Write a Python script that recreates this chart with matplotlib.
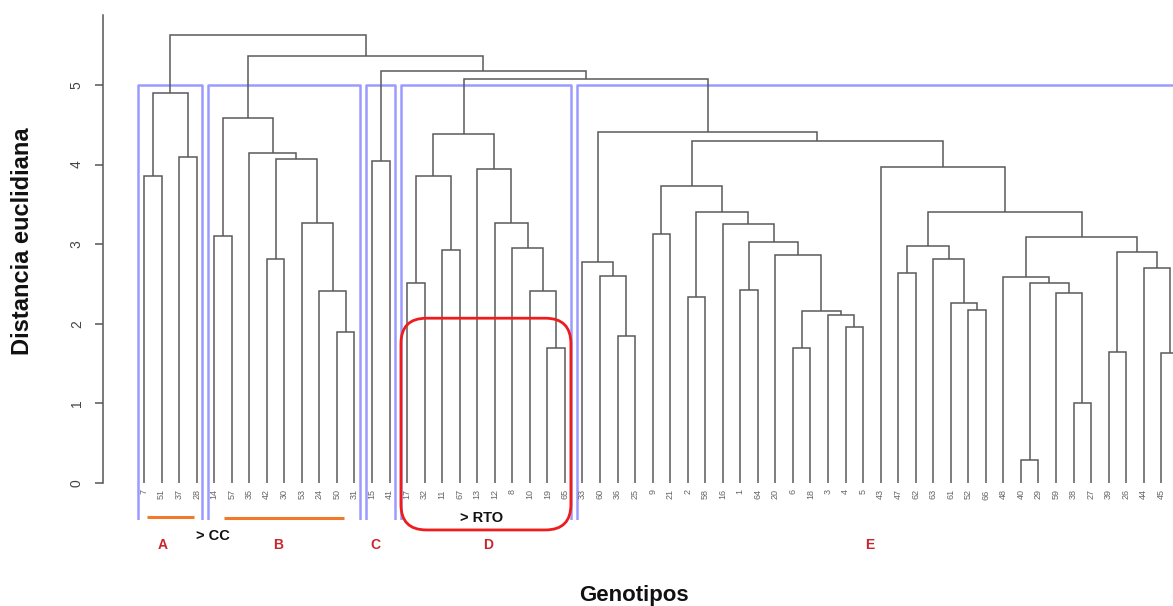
import matplotlib
matplotlib.use("Agg")
import matplotlib.pyplot as plt
from matplotlib.patches import FancyBboxPatch

plt.rcParams['font.family'] = ['Liberation Sans', 'DejaVu Sans']

# ---------------- data ----------------
leaf_labels = ["7", "51", "37", "28",
               "14", "57", "35", "42", "30", "53", "24", "50", "31",
               "15", "41",
               "17", "32", "11", "67", "13", "12", "8", "10", "19", "65",
               "33", "60", "36", "25", "9", "21", "2", "58", "16", "1", "64", "20", "6", "18", "3", "4", "5",
               "43", "47", "62", "63", "61", "52", "66", "48", "40", "29", "59", "38", "27", "39", "26",
               "44", "45", "46"]

# nodes: (height, left, right); leaves are labels
cluster_A = (4.90, (3.86, "7", "51"), (4.09, "37", "28"))
cluster_B = (4.59, (3.10, "14", "57"),
             (4.14, "35", (4.07, (2.81, "42", "30"),
                           (3.26, "53", (2.41, "24", (1.90, "50", "31"))))))
cluster_C = (4.04, "15", "41")
cluster_D = (4.39, (3.86, (2.51, "17", "32"), (2.93, "11", "67")),
             (3.94, "13", (3.27, "12", (2.95, "8", (2.41, "10", (1.70, "19", "65"))))))
sub_E1 = (2.77, "33", (2.60, "60", (1.85, "36", "25")))
sub_E2 = (3.73, (3.13, "9", "21"),
          (3.40, (2.34, "2", "58"),
           (3.25, "16", (3.03, (2.43, "1", "64"),
                         (2.87, "20", (2.16, (1.70, "6", "18"),
                                       (2.11, "3", (1.96, "4", "5"))))))))
sub_E3 = (3.97, "43",
          (3.41, (2.98, (2.64, "47", "62"),
                  (2.81, "63", (2.26, "61", (2.17, "52", "66")))),
           (3.09, (2.59, "48", (2.51, (0.29, "40", "29"),
                                (2.39, "59", (1.00, "38", "27")))),
            (2.90, (1.64, "39", "26"), (2.70, "44", (1.63, "45", "46"))))))
cluster_E = (4.41, sub_E1, (4.30, sub_E2, sub_E3))
root = (5.63, cluster_A, (5.36, cluster_B, (5.17, cluster_C, (5.07, cluster_D, cluster_E))))

cluster_names = ["A", "B", "C", "D", "E"]
cluster_nodes = [cluster_A, cluster_B, cluster_C, cluster_D, cluster_E]
cut_height = 5.0
y_ticks = [0, 1, 2, 3, 4, 5]

# ---------------- drawing ----------------
LINE = "#5a5a5a"
BLUE = "#9b9bff"
RED_TXT = "#c8262c"

fig = plt.figure(figsize=(11.73, 6.06), dpi=100)
ax = fig.add_axes([103 / 1173, 86 / 606, 1 - 103 / 1173, 510 / 606])
ax.set_xlim(-2.338, 58.67)
ax.set_ylim(-0.465, 5.942)

pos = {lab: i for i, lab in enumerate(leaf_labels)}


def draw(node):
    if isinstance(node, str):
        return pos[node], 0.0
    h, left, right = node
    xl, hl = draw(left)
    xr, hr = draw(right)
    ax.plot([xl, xl, xr, xr], [hl, h, h, hr], color=LINE, lw=1.1,
            solid_joinstyle="miter", solid_capstyle="butt")
    return (xl + xr) / 2, h


def leaves(node):
    if isinstance(node, str):
        return [node]
    return leaves(node[1]) + leaves(node[2])


draw(root)

# leaf labels (only those inside the visible x range)
xmax = ax.get_xlim()[1]
for lab, i in pos.items():
    if i + 0.4 > xmax:
        continue
    ax.text(i, -0.08, lab, rotation=90, ha="center", va="top", fontsize=6.5,
            color="#666666", clip_on=True)

# cluster rectangles (rect.hclust style)
ybot = ax.get_ylim()[0]
for node in cluster_nodes:
    idx = [pos[l] for l in leaves(node)]
    x0, x1 = min(idx) - 0.34, max(idx) + 0.33
    ax.plot([x0, x0, x1, x1], [ybot, cut_height, cut_height, ybot],
            color=BLUE, lw=1.8, clip_on=True, zorder=1)

# red rounded box around cluster D
d_idx = [pos[l] for l in leaves(cluster_D)]
bx0, bx1 = min(d_idx) - 0.35, max(d_idx) + 0.34
by0, by1 = -0.59, 2.07
box = FancyBboxPatch((bx0, by0), bx1 - bx0, by1 - by0,
                     boxstyle="round,pad=0,rounding_size=1.45",
                     mutation_aspect=17.54 / 79.6,
                     fill=False, edgecolor="#ee1c1c", lw=2.0, clip_on=False, zorder=5)
ax.add_patch(box)

# orange underlines for A and B
a_idx = [pos[l] for l in leaves(cluster_A)]
b_idx = [pos[l] for l in leaves(cluster_B)]
ax.plot([min(a_idx) + 0.17, max(a_idx) - 0.15], [-0.43, -0.43], color="#f07a2a", lw=2.2,
        clip_on=False, solid_capstyle="butt")
ax.plot([min(b_idx) + 0.56, max(b_idx) - 0.6], [-0.44, -0.44], color="#f07a2a", lw=2.2,
        clip_on=False, solid_capstyle="butt")

# cluster letters
letter_x = [1.05, 7.64, 13.2, 19.6, 41.4]
for name, lx in zip(cluster_names, letter_x):
    ax.text(lx, -0.78, name, ha="center", va="center", fontsize=10,
            fontweight="bold", color=RED_TXT, clip_on=False)

ax.text(3.93, -0.67, "> CC", ha="center", va="center", fontsize=10.5,
        fontweight="bold", color="#111111", clip_on=False)
ax.text(19.27, -0.44, "> RTO", ha="center", va="center", fontsize=10.5,
        fontweight="bold", color="#111111", clip_on=False, zorder=6)

# axes styling
for s in ["top", "right", "bottom"]:
    ax.spines[s].set_visible(False)
ax.spines["left"].set_color("#555555")
ax.spines["left"].set_linewidth(1.1)
ax.spines["left"].set_bounds(0, 5.88)
ax.set_xticks([])
ax.set_yticks(y_ticks)
ax.set_yticklabels([str(t) for t in y_ticks], rotation=90, va="center")
ax.tick_params(axis="y", direction="out", length=5.8, width=1.1, color="#555555",
               labelcolor="#444444", labelsize=10, pad=8)

fig.text(22.5 / 1173, 1 - 241 / 606, "Distancia euclidiana", rotation=90,
         ha="center", va="center", fontsize=17, fontweight="bold", color="#111111")
fig.text(634 / 1173, 1 - 595 / 606, "Genotipos", ha="center", va="center",
         fontsize=16, fontweight="bold", color="#111111")

fig.savefig("out.png", dpi=100)
